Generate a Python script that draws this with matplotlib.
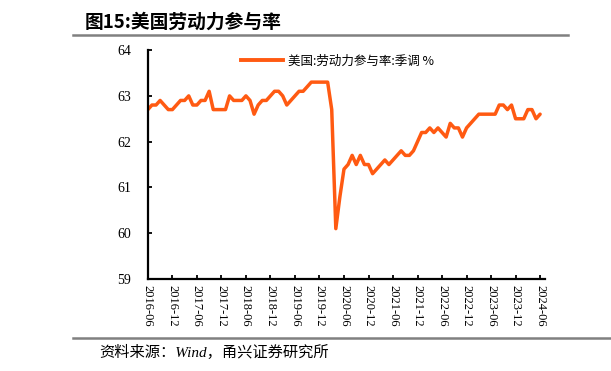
""" US labour force participation rate chart """
import matplotlib
matplotlib.use('Agg')
import matplotlib.pyplot as plt
from matplotlib.lines import Line2D

plt.rcParams['font.family'] = ['Liberation Serif', 'Noto Sans CJK SC', 'DejaVu Sans']

# monthly values, 2016-06 .. 2024-06
months = ['%d-%02d' % (2016 + (5 + i) // 12, (5 + i) % 12 + 1) for i in range(97)]
lfpr = [
    62.7, 62.8, 62.8, 62.9, 62.8, 62.7, 62.7,                                # 2016
    62.8, 62.9, 62.9, 63.0, 62.8, 62.8, 62.9, 62.9, 63.1, 62.7, 62.7, 62.7,  # 2017
    62.7, 63.0, 62.9, 62.9, 62.9, 63.0, 62.9, 62.6, 62.8, 62.9, 62.9, 63.0,  # 2018
    63.1, 63.1, 63.0, 62.8, 62.9, 63.0, 63.1, 63.1, 63.2, 63.3, 63.3, 63.3,  # 2019
    63.3, 63.3, 62.7, 60.1, 60.8, 61.4, 61.5, 61.7, 61.5, 61.7, 61.5, 61.5,  # 2020
    61.3, 61.4, 61.5, 61.6, 61.5, 61.6, 61.7, 61.8, 61.7, 61.7, 61.8, 62.0,  # 2021
    62.2, 62.2, 62.3, 62.2, 62.3, 62.2, 62.1, 62.4, 62.3, 62.3, 62.1, 62.3,  # 2022
    62.4, 62.5, 62.6, 62.6, 62.6, 62.6, 62.6, 62.8, 62.8, 62.7, 62.8, 62.5,  # 2023
    62.5, 62.5, 62.7, 62.7, 62.5, 62.6,                                      # 2024
]
tick_idx = list(range(0, 97, 6))
tick_labels = [months[i] for i in tick_idx]
y_ticks = [59, 60, 61, 62, 63, 64]

title = '图15:美国劳动力参与率'
series_name = '美国:劳动力参与率:季调 %'
source = '资料来源：Wind，甬兴证券研究所'

color = '#FF5A12'

fig = plt.figure(figsize=(6.11, 3.71), dpi=100)
ax = fig.add_axes([0.242, 0.248, 0.65, 0.617])

ax.plot(range(len(lfpr)), lfpr, color=color, lw=2.5,
        solid_joinstyle='round', solid_capstyle='round')

ax.set_xlim(0, 97.2)
ax.set_ylim(59, 64)
ax.set_yticks(y_ticks)
ax.set_yticklabels([str(v) for v in y_ticks], fontsize=10)
ax.set_xticks(tick_idx)
ax.set_xticklabels(tick_labels, rotation=270, fontsize=9)

for side in ['top', 'right']:
    ax.spines[side].set_visible(False)
for side in ['left', 'bottom']:
    ax.spines[side].set_linewidth(1.6)
ax.tick_params(axis='both', direction='in', length=3, width=1.3, pad=4)
ax.tick_params(axis='y', pad=12)

handle = Line2D([], [], color=color, lw=2.8)
ax.legend([handle], [series_name], loc='upper center', bbox_to_anchor=(0.478, 1.03),
          frameon=False, handlelength=3.3, handletextpad=0.45,
          prop={'family': ['Noto Sans CJK SC'], 'size': 9})

# title, rules and source
fig.text(0.139, 0.94, title, fontsize=13.5, fontweight='bold',
         family=['Noto Sans CJK SC'], va='center', ha='left')
fig.add_artist(Line2D([0.12, 0.93], [0.905, 0.905], color='#808080', lw=1.8))
fig.add_artist(Line2D([0.12, 1.0], [0.088, 0.088], color='#808080', lw=1.8))
fig.text(0.163, 0.05, source, fontsize=11, style='italic',
         family=['Liberation Serif', 'Noto Sans CJK SC'], va='center', ha='left')

fig.savefig('out.png', dpi=100)
